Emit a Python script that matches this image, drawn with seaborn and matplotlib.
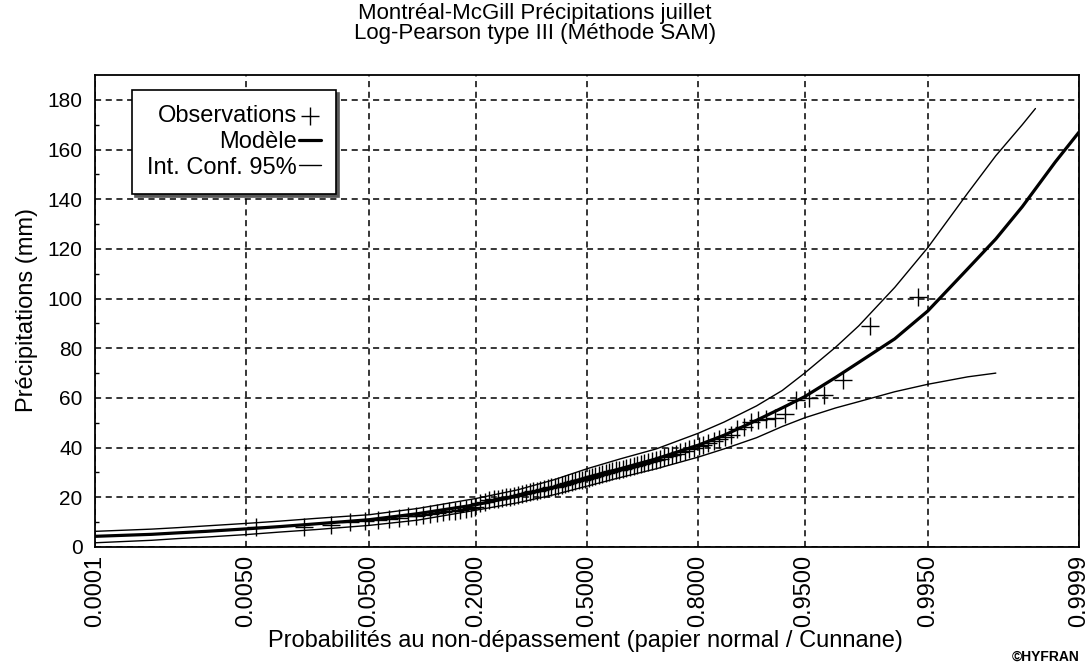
import numpy as np
import seaborn as sns
import matplotlib.pyplot as plt
from statistics import NormalDist

# Observations (Cunnane plotting positions, precipitations in mm)
obs_prob = [0.00611, 0.01629, 0.02648, 0.03666, 0.04684, 0.05703, 0.06721, 0.07739, 0.08758, 0.09776,
            0.10794, 0.11813, 0.12831, 0.13849, 0.14868, 0.15886, 0.16904, 0.17923, 0.18941, 0.19959,
            0.20978, 0.21996, 0.23014, 0.24033, 0.25051, 0.26069, 0.27088, 0.28106, 0.29124, 0.30143,
            0.31161, 0.32179, 0.33198, 0.34216, 0.35234, 0.36253, 0.37271, 0.38289, 0.39308, 0.40326,
            0.41344, 0.42363, 0.43381, 0.44399, 0.45418, 0.46436, 0.47454, 0.48473, 0.49491, 0.50509,
            0.51527, 0.52546, 0.53564, 0.54582, 0.55601, 0.56619, 0.57637, 0.58656, 0.59674, 0.60692,
            0.61711, 0.62729, 0.63747, 0.64766, 0.65784, 0.66802, 0.67821, 0.68839, 0.69857, 0.70876,
            0.71894, 0.72912, 0.73931, 0.74949, 0.75967, 0.76986, 0.78004, 0.79022, 0.80041, 0.81059,
            0.82077, 0.83096, 0.84114, 0.85132, 0.86151, 0.87169, 0.88187, 0.89206, 0.90224, 0.91242,
            0.92261, 0.93279, 0.94297, 0.95316, 0.96334, 0.97352, 0.98371, 0.99389]
obs_mm = [8.0, 8.2, 9.0, 10.0, 10.4, 11.0, 11.2, 11.8, 12.3, 12.6,
          12.9, 13.2, 13.5, 13.9, 14.3, 14.6, 15.0, 15.4, 15.8, 16.3,
          17.6, 18.3, 18.8, 19.2, 19.5, 19.8, 20.0, 20.3, 20.6, 21.0,
          21.3, 21.6, 22.0, 22.4, 22.7, 23.0, 23.4, 23.7, 24.0, 24.3,
          24.7, 25.0, 25.3, 25.7, 26.0, 26.4, 26.8, 27.1, 27.5, 27.9,
          28.2, 28.6, 29.0, 29.3, 29.7, 30.0, 30.4, 30.8, 31.1, 31.5,
          31.9, 32.3, 32.7, 33.1, 33.5, 33.9, 34.3, 34.7, 35.1, 35.6,
          36.1, 36.6, 37.1, 37.6, 38.2, 38.8, 39.4, 40.0, 40.6, 41.2,
          41.8, 42.5, 43.3, 44.2, 45.2, 47.3, 48.5, 50.5, 51.0, 51.6,
          52.0, 53.7, 59.0, 60.0, 61.0, 67.4, 89.0, 100.6]

# Modele Log-Pearson III et intervalle de confiance 95%
curve_prob = [0.0001, 0.0005, 0.001, 0.002, 0.005, 0.01, 0.02, 0.05, 0.1, 0.2,
              0.3, 0.4, 0.5, 0.6, 0.7, 0.8, 0.85, 0.9, 0.93, 0.95,
              0.97, 0.98, 0.99, 0.995, 0.998, 0.999, 0.9995]
model_mm = [4.3, 5.1, 5.7, 6.3, 7.3, 8.2, 9.3, 11.0, 13.4, 17.0,
            20.5, 24.0, 28.0, 31.5, 35.5, 41.0, 45.0, 51.0, 56.0, 60.5,
            68.3, 74.3, 83.8, 95.0, 112.0, 124.0, 137.0]
model_tail_prob = [0.9998, 0.9999]
model_tail_mm = [155.0, 167.0]

upper_mm = [6.3, 7.2, 7.8, 8.5, 9.5, 10.4, 11.5, 13.0, 15.5, 19.5,
            23.0, 27.0, 31.5, 35.5, 39.5, 45.8, 50.3, 56.8, 63.0, 70.0,
            80.5, 89.0, 104.5, 120.5, 142.5, 157.5, 170.0]
upper_tail_prob = [0.99965]
upper_tail_mm = [176.5]

lower_mm = [1.7, 2.7, 3.4, 4.0, 5.0, 6.0, 7.0, 8.7, 10.8, 14.8,
            17.8, 21.0, 24.5, 28.0, 31.5, 36.2, 39.5, 44.0, 48.5, 52.0,
            56.0, 58.5, 62.5, 65.5, 68.5, 70.0]

tick_prob = [0.0001, 0.005, 0.05, 0.2, 0.5, 0.8, 0.95, 0.995, 0.9999]
tick_labels = ['0.0001', '0.0050', '0.0500', '0.2000', '0.5000', '0.8000', '0.9500', '0.9950', '0.9999']

sns.set_theme(style='white')
plt.rcParams['font.family'] = ['Liberation Sans', 'DejaVu Sans']
plt.rcParams['text.color'] = 'black'
plt.rcParams['axes.labelcolor'] = 'black'
plt.rcParams['xtick.color'] = 'black'
plt.rcParams['ytick.color'] = 'black'

fig = plt.figure(figsize=(10.9, 6.63), dpi=100)
ax = fig.add_axes([95 / 1090, 1 - 547 / 663, 984 / 1090, 472 / 663])

sns.scatterplot(x=obs_prob, y=obs_mm, marker='+', s=150, color='black', linewidth=1.0,
                label='Observations', ax=ax, zorder=4)
sns.lineplot(x=curve_prob + model_tail_prob, y=model_mm + model_tail_mm, color='black',
             linewidth=2.3, label='Modèle', ax=ax, zorder=3)
sns.lineplot(x=curve_prob + upper_tail_prob, y=upper_mm + upper_tail_mm, color='black',
             linewidth=1.0, label='Int. Conf. 95%', ax=ax, zorder=3)
sns.lineplot(x=curve_prob[:len(lower_mm)], y=lower_mm, color='black', linewidth=1.0,
             label='_nolegend_', ax=ax, zorder=3)

# papier normal
nd = NormalDist()
ppf = np.vectorize(lambda p: nd.inv_cdf(min(max(p, 1e-12), 1 - 1e-12)), otypes=[float])
cdf = np.vectorize(nd.cdf, otypes=[float])
ax.set_xscale('function', functions=(ppf, cdf))
ax.set_xlim(0.0001, 0.9999)
ax.set_ylim(0, 190)

ax.set_xticks(tick_prob)
ax.set_xticklabels(tick_labels, rotation=90, fontsize=17)
ax.xaxis.set_minor_locator(plt.NullLocator())
ax.set_yticks(range(0, 181, 20))
ax.set_yticks(range(10, 190, 20), minor=True)
ax.tick_params(axis='y', labelsize=15, direction='out', length=6, width=1, pad=3)
ax.tick_params(axis='x', direction='out', length=4, width=1, pad=1.5)
ax.tick_params(axis='y', which='minor', direction='in', length=3, width=1, left=True)

ax.grid(True, which='major', color='black', linestyle=(0, (4, 3)), linewidth=1.1)
for s in ax.spines.values():
    s.set_color('black')
    s.set_linewidth(1.3)

ax.set_xlabel('Probabilités au non-dépassement (papier normal / Cunnane)', fontsize=17)
ax.xaxis.set_label_coords(0.498, -0.176)
ax.set_ylabel('Précipitations (mm)', fontsize=17)
ax.yaxis.set_label_coords(-0.058, 0.502)

fig.text(535 / 1090, 1 - 13 / 663, 'Montréal-McGill Précipitations juillet', ha='center', va='center', fontsize=16)
fig.text(535 / 1090, 1 - 34 / 663, 'Log-Pearson type III (Méthode SAM)', ha='center', va='center', fontsize=16)
fig.text(1046 / 1090, 1 - 657 / 663, '©HYFRAN', ha='center', va='center', fontsize=10, fontweight='bold')

leg = ax.legend(loc='upper left', bbox_to_anchor=(0.0376, 0.968), borderaxespad=0,
                markerfirst=False, fancybox=False, shadow={'color': '0.35', 'alpha': 1},
                edgecolor='black', framealpha=1, fontsize=17, handlelength=0.9,
                handletextpad=0.1, labelspacing=0.15, borderpad=0.65, scatterpoints=1)
leg.get_frame().set_linewidth(1.2)

plt.savefig('out.png', dpi=100)
